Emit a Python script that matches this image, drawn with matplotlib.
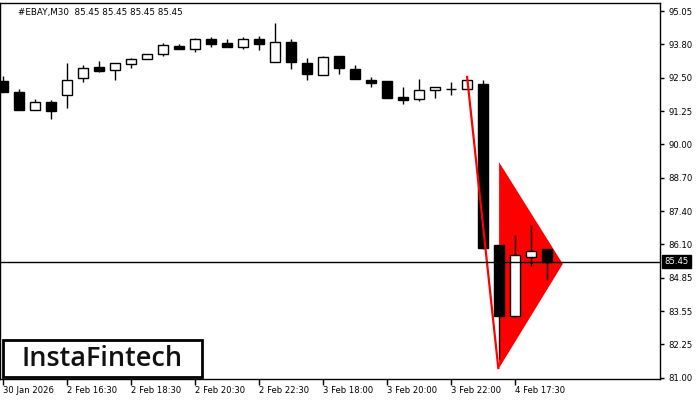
import numpy as np
import matplotlib.pyplot as plt
from matplotlib.patches import Polygon, Rectangle

# OHLC of the M30 bars
opens = [92.37, 91.95, 91.27, 91.56, 91.82, 92.47, 92.90, 92.78, 93.01, 93.20,
         93.39, 93.70, 93.61, 93.98, 93.82, 93.68, 93.98, 93.11, 93.85, 93.05,
         92.62, 93.33, 92.85, 92.43, 92.36, 91.76, 91.69, 92.01, 92.06, 92.05,
         92.25, 86.07, 83.38, 85.61, 85.92]
highs = [92.56, 92.06, 91.70, 91.64, 93.06, 92.98, 93.13, 93.05, 93.25, 93.39,
         93.81, 93.79, 94.02, 94.04, 93.98, 94.04, 94.09, 94.58, 93.97, 93.25,
         93.33, 93.33, 92.98, 92.52, 92.36, 92.14, 92.44, 92.13, 92.32, 92.40,
         92.41, 86.07, 86.47, 86.85, 85.92]
lows = [91.95, 91.27, 91.27, 90.92, 91.35, 92.34, 92.71, 92.41, 92.88, 93.20,
        93.34, 93.61, 93.49, 93.68, 93.68, 93.61, 93.57, 93.11, 92.84, 92.42,
        92.62, 92.65, 92.46, 92.15, 91.73, 91.51, 91.61, 91.73, 91.84, 92.05,
        85.93, 81.72, 83.34, 85.29, 84.74]
closes = [91.95, 91.27, 91.55, 91.23, 92.43, 92.89, 92.76, 93.05, 93.20, 93.39,
          93.74, 93.61, 93.98, 93.80, 93.68, 93.98, 93.80, 93.85, 93.11, 92.65,
          93.28, 92.88, 92.46, 92.30, 91.73, 91.65, 92.01, 92.13, 92.06, 92.40,
          85.98, 83.38, 85.69, 85.84, 85.45]

x_labels = ["30 Jan 2026", "2 Feb 16:30", "2 Feb 18:30", "2 Feb 20:30", "2 Feb 22:30",
            "3 Feb 18:00", "3 Feb 20:00", "3 Feb 22:00", "4 Feb 17:30"]
y_labels = ["81.00", "82.25", "83.55", "84.85", "86.10", "87.40",
            "88.70", "90.00", "91.25", "92.50", "93.80", "95.05"]

last_price = 85.45
pole = [(29.0, 92.53), (30.95, 81.37)]
pennant = [(31.0, 89.26), (31.0, 81.37), (34.98, 85.36)]

fig = plt.figure(figsize=(7, 4), dpi=100)
ax = fig.add_axes([0.0, 0.0525, 0.943, 0.9405])

x = np.arange(len(opens))
o = np.array(opens)
c = np.array(closes)
bull = c >= o

# pennant shape under the candles
ax.add_patch(Polygon(pennant, closed=True, facecolor="red", edgecolor="none", zorder=1))

ax.vlines(x, lows, highs, color="black", linewidth=1, zorder=2)
ax.bar(x[bull], (c - o)[bull], bottom=o[bull], width=0.66,
       facecolor="white", edgecolor="black", linewidth=1, zorder=3)
ax.bar(x[~bull], (o - c)[~bull], bottom=c[~bull], width=0.66,
       facecolor="black", edgecolor="black", linewidth=1, zorder=3)

ax.plot([p[0] for p in pole], [p[1] for p in pole], color="red", linewidth=1.6, zorder=4)
ax.axhline(last_price, color="black", linewidth=1, zorder=5)

ax.set_xlim(-0.1875, 41.06)
ax.set_ylim(80.95, 95.37)

ax.set_xticks(np.arange(0, 4 * len(x_labels), 4))
ax.set_xticklabels(x_labels, fontsize=6.1, ha="left")
yt = np.linspace(81.0, 95.05, len(y_labels))
ax.set_yticks(yt)
ax.set_yticklabels(y_labels, fontsize=6.1)
ax.yaxis.tick_right()
ax.tick_params(axis="x", length=4, width=1, pad=1)
ax.tick_params(axis="y", length=3, width=1, pad=3)
for s in ax.spines.values():
    s.set_linewidth(1)

ax.annotate("85.45", xy=(1.0, last_price), xycoords=("axes fraction", "data"),
            xytext=(3, 0), textcoords="offset points", ha="left", va="center",
            fontsize=6.1, color="white",
            bbox=dict(boxstyle="square,pad=0.25", facecolor="black", edgecolor="black"))

ax.text(0.027, 0.975, "#EBAY,M30  85.45 85.45 85.45 85.45", transform=ax.transAxes,
        fontsize=6.3, ha="left", va="center")

# logo box
fig.patches.append(Rectangle((3 / 700, 23 / 400), 199 / 700, 37 / 400, transform=fig.transFigure,
                             facecolor="white", edgecolor="black", linewidth=2, zorder=10))
fig.text(102 / 700, 41 / 400, "InstaFintech", fontsize=19.5, ha="center", va="center",
         family="Open Sans", weight="semibold", color="#111111", zorder=11)

fig.savefig("out.png", dpi=100)
